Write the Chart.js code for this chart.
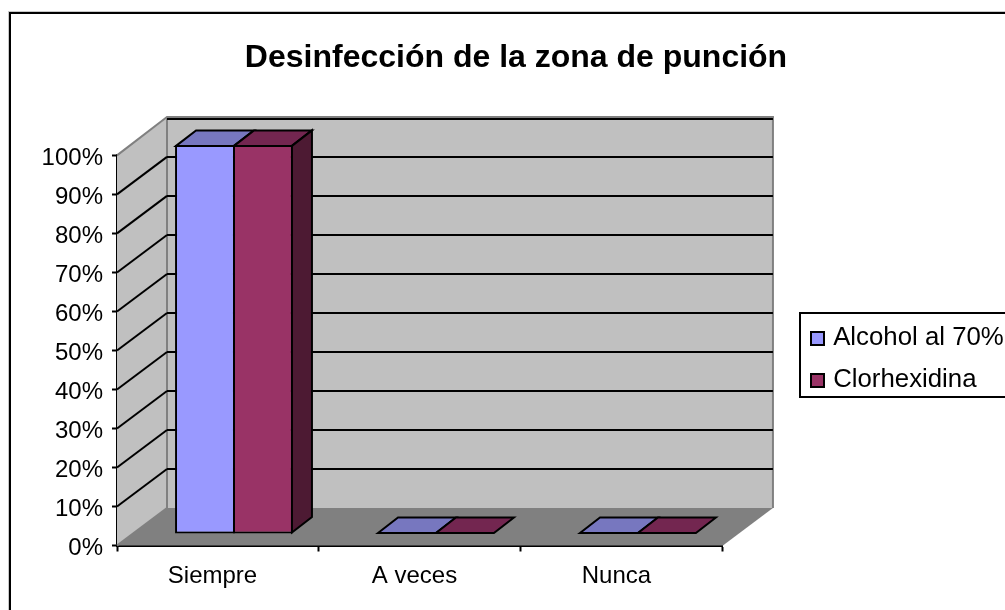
<!DOCTYPE html>
<html><head><meta charset="utf-8">
<style>html,body{margin:0;padding:0;background:#fff}#w{position:relative;width:1005px;height:610px}canvas{display:block}</style>
<script src="https://cdn.jsdelivr.net/npm/chart.js@4/dist/chart.umd.min.js"></script>
</head><body><div id="w"><canvas id="c" width="1005" height="610"></canvas></div>
<script>
const categories = ['Siempre', 'A veces', 'Nunca'];
const alcohol = [100, 0, 0];
const clorhexidina = [100, 0, 0];
const seriesNames = ['Alcohol al 70%', 'Clorhexidina'];
const seriesColors = ['#9999FF', '#993366'];
const topColors = ['#7777BF', '#732650'];
const sideColor = '#4D1A33';
const FONT = '"Liberation Sans", Arial, sans-serif';
const BACK = {dx: 50, dy: -37.5};
const BAR_SHIFT = {dx: 16, dy: -11.5};
const BAR_DEPTH = {dx: 20, dy: -15.5};
const BAR_YS = 0.9974;

function poly(ctx, pts, fill, stroke, lw) {
  ctx.beginPath();
  pts.forEach((p, i) => i ? ctx.lineTo(p[0], p[1]) : ctx.moveTo(p[0], p[1]));
  ctx.closePath();
  if (fill) { ctx.fillStyle = fill; ctx.fill(); }
  if (stroke) { ctx.strokeStyle = stroke; ctx.lineWidth = lw; ctx.lineJoin = 'miter'; ctx.stroke(); }
}
function line(ctx, pts, color, lw) {
  ctx.beginPath();
  pts.forEach((p, i) => i ? ctx.lineTo(p[0], p[1]) : ctx.moveTo(p[0], p[1]));
  ctx.strokeStyle = color; ctx.lineWidth = lw; ctx.stroke();
}

const frame3d = {
  id: 'frame3d',
  afterLayout(chart) {
    const l = chart.legend, w = l.width, h = l.height;
    l.left = 793.75; l.right = l.left + w; l.top = 308.25; l.bottom = l.top + h;
    const t = chart.titleBlock;
    t.left = 216; t.right = 816;
  },
  beforeDraw(chart) {
    const ctx = chart.ctx;
    ctx.save();
    ctx.fillStyle = '#fff'; ctx.fillRect(0, 0, chart.width, chart.height);
    ctx.strokeStyle = '#C8C8C8'; ctx.lineWidth = 1;
    ctx.strokeRect(8.5, 11.5, 1100, 800);
    ctx.strokeStyle = '#000'; ctx.lineWidth = 2;
    ctx.strokeRect(10, 13, 1100, 800);
    ctx.strokeRect(800, 313, 300, 84);
    ctx.restore();
  },
  beforeDatasetsDraw(chart) {
    const ctx = chart.ctx, a = chart.chartArea, y = chart.scales.y;
    const L = a.left, R = a.right, T = y.getPixelForValue(100), B = y.getPixelForValue(0);
    const dx = BACK.dx, dy = BACK.dy;
    ctx.save();
    poly(ctx, [[L, T], [L + dx, T + dy], [L + dx, B + dy], [L, B]], '#C0C0C0');
    poly(ctx, [[L + dx, T + dy], [R + dx, T + dy], [R + dx, B + dy], [L + dx, B + dy]], '#C0C0C0');
    poly(ctx, [[L, B], [R, B], [R + dx, B + dy], [L + dx, B + dy]], '#808080');
    line(ctx, [[L + dx, T + dy], [L + dx, B + dy]], '#808080', 2);
    line(ctx, [[R + dx, T + dy - 1], [R + dx, B + dy]], '#808080', 2);
    line(ctx, [[L, T], [L + dx, T + dy - 1], [R + dx + 1, T + dy - 1]], '#808080', 2);
    line(ctx, [[L, B], [L + dx, B + dy]], '#808080', 2);
    y.ticks.forEach(t => {
      const py = y.getPixelForValue(t.value);
      if (t.value === 0) return;
      if (t.value !== 100) line(ctx, [[L, py], [L + dx, py + dy]], '#000', 2);
      const off = t.value === 100 ? 1 : 0;
      line(ctx, [[L + dx, py + dy + off], [R + dx, py + dy + off]], '#000', 2);
    });
    ctx.restore();
    ctx.save();
    ctx.transform(1, 0, 0, BAR_YS, BAR_SHIFT.dx, BAR_SHIFT.dy + B * (1 - BAR_YS));
  },
  afterDatasetsDraw(chart) {
    const ctx = chart.ctx;
    const n = chart.data.datasets.length;
    const ex = BAR_DEPTH.dx, ey = BAR_DEPTH.dy / BAR_YS;
    for (let d = 0; d < n; d++) {
      chart.getDatasetMeta(d).data.forEach(bar => {
        const p = bar.getProps(['x', 'y', 'base', 'width'], true);
        const x0 = p.x - p.width / 2 + 1, x1 = p.x + p.width / 2 - 1;
        const tall = p.base - p.y > 2;
        const yt = tall ? p.y + 1 : p.base - 1, yb = p.base - 1;
        poly(ctx, [[x0, yt], [x0 + ex, yt + ey], [x1 + ex, yt + ey], [x1, yt]], topColors[d], '#000', 2);
        if (d === n - 1 && tall) {
          poly(ctx, [[x1, yt], [x1 + ex, yt + ey], [x1 + ex, yb + ey], [x1, yb]], sideColor, '#000', 2);
        }
      });
    }
    ctx.restore();
  },
  afterDraw(chart) {
    const ctx = chart.ctx;
    ctx.save();
    chart.legend.legendHitBoxes.forEach((b, i) => {
      ctx.fillStyle = seriesColors[i];
      ctx.strokeStyle = '#000'; ctx.lineWidth = 2;
      const cy = Math.round(b.top + b.height / 2) + 0.5;
      ctx.fillRect(811, cy - 6.5, 13, 13);
      ctx.strokeRect(811, cy - 6.5, 13, 13);
    });
    ctx.restore();
  }
};

new Chart(document.getElementById('c'), {
  type: 'bar',
  plugins: [frame3d],
  data: {
    labels: categories,
    datasets: [
      {label: seriesNames[0], data: alcohol, backgroundColor: seriesColors[0], borderColor: '#000', borderWidth: 2, borderSkipped: false, clip: false},
      {label: seriesNames[1], data: clorhexidina, backgroundColor: seriesColors[1], borderColor: '#000', borderWidth: 2, borderSkipped: false, clip: false}
    ]
  },
  options: {
    responsive: false,
    animation: false,
    layout: {padding: {left: 0, top: 0, right: 62, bottom: 0}},
    datasets: {bar: {categoryPercentage: 0.574, barPercentage: 1.034}},
    scales: {
      x: {
        offset: true,
        border: {color: '#000', width: 2},
        grid: {display: true, drawOnChartArea: false, tickLength: 6, tickColor: '#000', tickWidth: 2, offset: true},
        ticks: {color: '#000', font: {family: FONT, size: 24}, padding: 10, labelOffset: -5.5, maxRotation: 0},
        afterFit(s) { s.height = 64.5; }
      },
      y: {
        min: 0, max: 100,
        border: {color: '#000', width: 2},
        grid: {display: true, drawOnChartArea: false, tickLength: 5, tickColor: '#000', tickWidth: 2},
        ticks: {color: '#000', stepSize: 10, font: {family: FONT, size: 24}, padding: 9, labelOffset: 3, callback: v => v + '%'},
        afterFit(s) { s.width = 117; }
      }
    },
    plugins: {
      title: {display: true, text: 'Desinfección de la zona de punción', color: '#000', font: {family: FONT, size: 32, weight: 'bold'}, padding: {top: 39, bottom: 78}},
      legend: {
        display: true, position: 'right', align: 'start',
        labels: {color: '#000', boxWidth: 10, boxHeight: 15, padding: 16.5, font: {family: FONT, size: 25.8},
          generateLabels(chart) {
            return chart.data.datasets.map((d, i) => ({text: d.label, fillStyle: 'rgba(0,0,0,0)', strokeStyle: 'rgba(0,0,0,0)', lineWidth: 0, datasetIndex: i, fontColor: '#000'}));
          }
        }
      },
      tooltip: {enabled: false}
    }
  }
});
</script></body></html>
